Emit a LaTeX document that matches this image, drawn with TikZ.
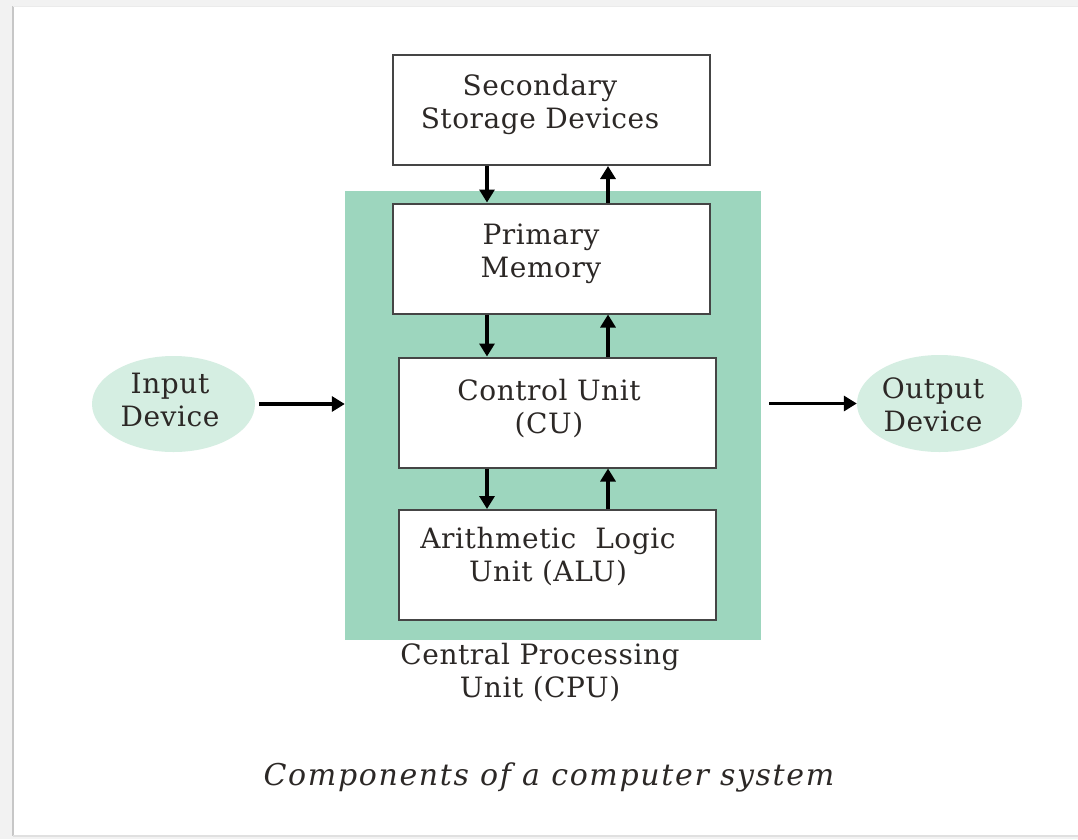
\documentclass[tikz,border=0pt]{standalone}
\usepackage{fontspec}
\setmainfont{DejaVu Serif}[LetterSpace=2]
\newfontfamily\capfont{DejaVu Serif}[LetterSpace=5.5]
\usetikzlibrary{arrows.meta,shapes.geometric,calc}
\definecolor{cpugreen}{HTML}{9DD6BE}
\definecolor{devgreen}{HTML}{D5EEE2}
\definecolor{txt}{HTML}{2C2826}
\definecolor{boxline}{HTML}{454545}
\begin{document}
\begin{tikzpicture}[x=1pt,y=-1pt,
  box/.style={draw=boxline,line width=2pt,fill=white,minimum width=317pt,minimum height=110pt,inner sep=0pt},
  lbl/.style={text=txt,align=center,font=\fontsize{28}{33}\selectfont,inner sep=0pt},
  dev/.style={ellipse,fill=devgreen,inner sep=0pt},
  arr/.style={line width=3.2pt,-{Triangle[width=15pt,length=13pt]}},
]
\useasboundingbox (0,0) rectangle (1078,839);
% page frame
\fill[black!5] (0,0) rectangle (1078,839);
\fill[white] (13,6) rectangle (1078,836);
\draw[black!22,line width=2pt] (13,6) -- (13,836);
\draw[black!12,line width=1.5pt] (13,836) -- (1078,836);
\draw[black!8,line width=1pt] (13,6) -- (1078,6);

% CPU block
\node[fill=cpugreen,minimum width=416pt,minimum height=449pt,inner sep=0pt] (cpu) at (553,415.5) {};

% boxes
\node[box] (ssd) at (551.5,110) {};
\node[box] (pm)  at (551.5,258.5) {};
\node[box] (cu)  at (557,412.5) {};
\node[box] (alu) at (557,565) {};

\node[lbl] (ssdt) at (540,104.5) {Secondary\\Storage Devices};
\node[lbl] (pmt)  at (541,254)   {Primary\\Memory};
\node[lbl] (cut)  at (549,409)   {Control Unit\\(CU)};
\node[lbl] (alut) at (548,557)   {Arithmetic\ \ Logic\\Unit (ALU)};
\node[lbl] (cput) at (540,672.5) {Central Processing\\Unit (CPU)};

% devices
\node[dev,minimum width=163pt,minimum height=96pt] (in) at (173.5,404) {};
\node[lbl] (int) at (170,400) {Input\\Device};
\node[dev,minimum width=165pt,minimum height=97pt] (out) at (939.5,403.5) {};
\node[lbl] (outt) at (933,404.5) {Output\\Device};

% vertical connectors
\coordinate (dn) at (487,0);
\coordinate (up) at (608,0);
\draw[arr] (ssd.south -| dn) -- (pm.north -| dn);
\draw[arr] (pm.north -| up) -- (ssd.south -| up);
\draw[arr] (pm.south -| dn) -- (cu.north -| dn);
\draw[arr] (cu.north -| up) -- (pm.south -| up);
\draw[arr] (cu.south -| dn) -- (alu.north -| dn);
\draw[arr] (alu.north -| up) -- (cu.south -| up);

% horizontal connectors
\draw[arr,shorten <=4pt] (in.east) -- (in.east -| cpu.west);
\draw[arr,shorten <=8pt] (out.west -| cpu.east) -- (out.west);

% caption
\node[text=txt,inner sep=0pt,font=\capfont\itshape\fontsize{30}{34}\selectfont] (cap) at (549,777) {Components of a computer system};
\end{tikzpicture}
\end{document}
